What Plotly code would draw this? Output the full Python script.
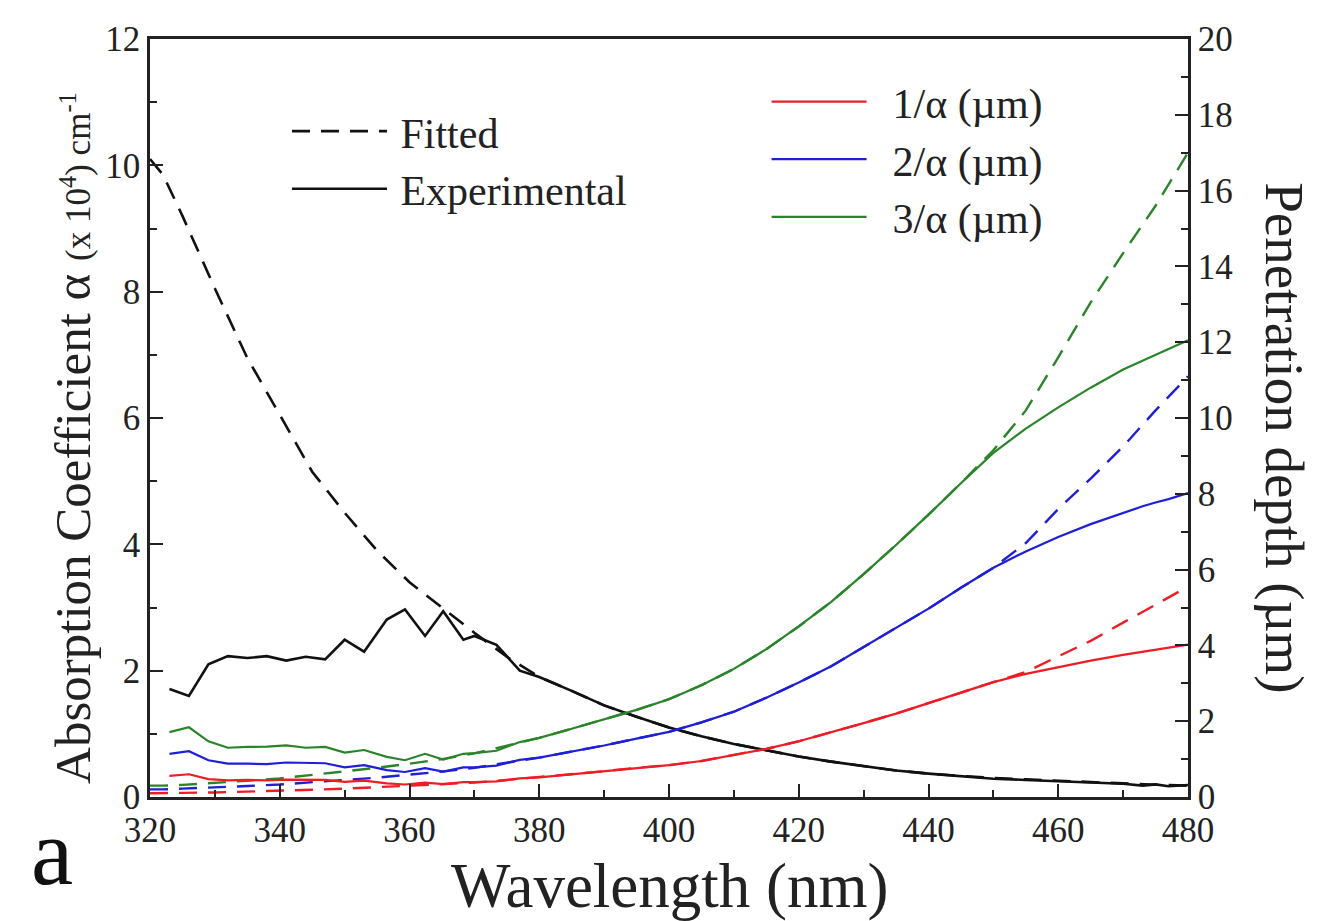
import plotly.graph_objects as go

# ---------------- data ----------------
# Experimental curves (solid)
wl_exp = [323, 326, 329, 332, 335, 338, 341, 344, 347, 350, 353, 356.5, 359.3, 362.4,
          365.2, 368.3, 370, 373.4, 377, 380, 385, 390, 395, 400, 405, 410, 415, 420,
          425, 430, 435, 440, 445, 450, 455, 460, 465, 470, 473, 475, 477, 480]
alpha_exp = [1.71, 1.60, 2.10, 2.23, 2.20, 2.23, 2.16, 2.22, 2.18, 2.49, 2.30, 2.81, 2.97, 2.55,
             2.94, 2.49, 2.55, 2.41, 2.00, 1.90, 1.68, 1.45, 1.27, 1.10, 0.96, 0.84, 0.74, 0.64,
             0.56, 0.49, 0.42, 0.37, 0.33, 0.29, 0.27, 0.25, 0.23, 0.21, 0.18, 0.20, 0.17, 0.19]
d1_exp = [0.56, 0.60, 0.47, 0.44, 0.45, 0.44, 0.46, 0.45, 0.45, 0.40, 0.43, 0.36, 0.33, 0.38,
          0.34, 0.39, 0.39, 0.41, 0.49, 0.52, 0.60, 0.68, 0.77, 0.84, 0.95, 1.10, 1.27, 1.47,
          1.70, 1.95, 2.20, 2.48, 2.77, 3.03, 3.25, 3.43, 3.60, 3.75, 3.83, 3.88, 3.94, 4.02]
d2_exp = [1.14, 1.21, 0.97, 0.88, 0.88, 0.87, 0.91, 0.90, 0.89, 0.78, 0.84, 0.71, 0.66, 0.76,
          0.67, 0.78, 0.78, 0.83, 0.98, 1.04, 1.20, 1.36, 1.54, 1.72, 1.97, 2.25, 2.62, 3.02,
          3.45, 3.95, 4.45, 4.97, 5.52, 6.05, 6.48, 6.86, 7.20, 7.50, 7.67, 7.77, 7.86, 8.02]
d3_exp = [1.71, 1.84, 1.47, 1.30, 1.32, 1.33, 1.36, 1.30, 1.32, 1.17, 1.24, 1.06, 0.97, 1.14,
          0.99, 1.14, 1.16, 1.22, 1.45, 1.56, 1.80, 2.04, 2.30, 2.58, 2.95, 3.38, 3.90, 4.50,
          5.15, 5.88, 6.65, 7.45, 8.28, 9.08, 9.72, 10.28, 10.80, 11.28, 11.52, 11.68, 11.82, 12.05]

# Fitted curves (dashed)
wl_fit = [320, 322, 325, 330, 335, 340, 345, 350, 355, 360, 365, 370, 375, 380,
          385, 390, 395, 400, 405, 410, 415, 420, 425, 430, 435, 440, 445, 450,
          455, 460, 465, 470, 475, 480]
alpha_fit = [10.1, 9.85, 9.2, 8.05, 6.95, 6.05, 5.15, 4.5, 3.9, 3.4, 3.0, 2.6, 2.22, 1.9,
             1.68, 1.45, 1.27, 1.10, 0.96, 0.84, 0.74, 0.64, 0.56, 0.49, 0.42, 0.37, 0.33, 0.30,
             0.28, 0.255, 0.235, 0.215, 0.195, 0.18]
d1_fit = [0.10, 0.10, 0.11, 0.12, 0.14, 0.16, 0.19, 0.22, 0.26, 0.29, 0.33, 0.38, 0.45, 0.52,
          0.60, 0.68, 0.77, 0.84, 0.95, 1.10, 1.27, 1.47, 1.70, 1.95, 2.20, 2.48, 2.77, 3.03,
          3.30, 3.70, 4.12, 4.60, 5.08, 5.55]
d2_fit = [0.20, 0.20, 0.22, 0.25, 0.29, 0.33, 0.39, 0.44, 0.51, 0.59, 0.67, 0.77, 0.90, 1.04,
          1.20, 1.36, 1.54, 1.72, 1.97, 2.25, 2.62, 3.02, 3.45, 3.95, 4.45, 4.97, 5.52, 6.05,
          6.70, 7.60, 8.40, 9.25, 10.20, 11.10]
d3_fit = [0.30, 0.30, 0.32, 0.37, 0.43, 0.49, 0.58, 0.67, 0.77, 0.88, 1.00, 1.15, 1.35, 1.56,
          1.80, 2.04, 2.30, 2.58, 2.95, 3.38, 3.90, 4.50, 5.15, 5.88, 6.65, 7.45, 8.28, 9.15,
          10.20, 11.60, 13.05, 14.35, 15.60, 17.00]

names_depth = ["\u20021/α (µm)", "\u20022/α (µm)", "\u20023/α (µm)"]
names_alpha = ["\u2009Fitted", "\u2009Experimental"]
colors = ["#ee1c25", "#1f1fd8", "#2a852a"]

FONT = "Liberation Serif"

fig = go.Figure()

# colored fitted (dashed) on right axis
for yv, c in zip([d1_fit, d2_fit, d3_fit], colors):
    fig.add_trace(go.Scatter(x=wl_fit, y=yv, yaxis="y2", mode="lines",
                             line=dict(color=c, width=2.4, dash="18px,11px"),
                             showlegend=False, hoverinfo="skip"))
# colored experimental (solid) on right axis
for yv, c, n in zip([d1_exp, d2_exp, d3_exp], colors, names_depth):
    fig.add_trace(go.Scatter(x=wl_exp, y=yv, yaxis="y2", mode="lines",
                             line=dict(color=c, width=2.2), name=n, legend="legend2"))
# black curves on left axis
fig.add_trace(go.Scatter(x=wl_fit, y=alpha_fit, mode="lines", name=names_alpha[0],
                         line=dict(color="#111111", width=2.6, dash="18px,11px"),
                         legend="legend"))
fig.add_trace(go.Scatter(x=wl_exp, y=alpha_exp, mode="lines", name=names_alpha[1],
                         line=dict(color="#111111", width=2.6), legend="legend"))

tickfont = dict(family=FONT, size=35, color="#222222")
axcommon = dict(showline=True, linecolor="#222222", linewidth=2.5, ticks="inside",
                ticklen=13, tickwidth=2.2, tickcolor="#222222", showgrid=False,
                zeroline=False, tickfont=tickfont)

fig.update_layout(
    width=1315, height=913,
    margin=dict(l=142, r=135, t=26, b=124),
    paper_bgcolor="white", plot_bgcolor="white",
    xaxis=dict(range=[320, 480], dtick=20, tick0=320, mirror=True,
               minor=dict(dtick=10, ticks="inside", ticklen=7, tickwidth=2, tickcolor="#222222"),
               **axcommon),
    yaxis=dict(range=[0, 12], dtick=2, tick0=0,
               minor=dict(dtick=1, ticks="inside", ticklen=7, tickwidth=2, tickcolor="#222222"),
               **axcommon),
    yaxis2=dict(range=[0, 20], dtick=2, tick0=0, overlaying="y", side="right",
                minor=dict(dtick=1, ticks="inside", ticklen=7, tickwidth=2, tickcolor="#222222"),
                **axcommon),
    legend=dict(x=0.132, y=0.923, xanchor="left", yanchor="top", bgcolor="rgba(0,0,0,0)",
                font=dict(family=FONT, size=42, color="#222222"), itemwidth=95,
                tracegroupgap=0),
    legend2=dict(x=0.594, y=0.962, xanchor="left", yanchor="top", bgcolor="rgba(0,0,0,0)",
                 font=dict(family=FONT, size=42, color="#222222"), itemwidth=95,
                 tracegroupgap=0),
    showlegend=True,
)

fig.add_annotation(text="Wavelength (nm)", xref="paper", yref="paper", x=0.501, y=-0.118,
                   xanchor="center", yanchor="middle", showarrow=False,
                   font=dict(family=FONT, size=63, color="#222222"))
fig.add_annotation(text="Absorption Coefficient α <span style='font-size:35px'>(x 10<sup>4</sup>) cm<sup>-1</sup></span>",
                   xref="paper", yref="paper", x=-0.074, y=0.474, textangle=-90,
                   xanchor="center", yanchor="middle", showarrow=False,
                   font=dict(family=FONT, size=51, color="#222222"))
fig.add_annotation(text="Penetration depth (µm)", xref="paper", yref="paper", x=1.093, y=0.474,
                   textangle=90, xanchor="center", yanchor="middle", showarrow=False,
                   font=dict(family=FONT, size=55, color="#222222"))
fig.add_annotation(text="a", xref="paper", yref="paper", x=-0.094, y=-0.072,
                   xanchor="center", yanchor="middle", showarrow=False,
                   font=dict(family=FONT, size=95, color="#111111"))

fig.write_html("out.html")
